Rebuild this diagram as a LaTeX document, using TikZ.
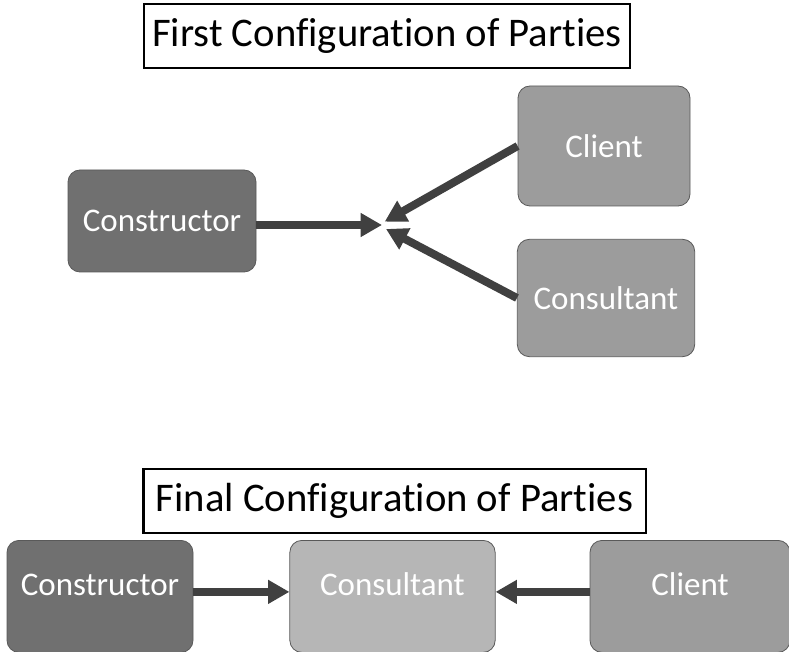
\documentclass[tikz,border=0pt]{standalone}
\usepackage{fontspec}
\setmainfont{Carlito}[Ligatures=NoCommon]
\usetikzlibrary{arrows.meta, positioning}

\definecolor{darkbox}{HTML}{707070}
\definecolor{midbox}{HTML}{9C9C9C}
\definecolor{lightbox}{HTML}{B6B6B6}
\definecolor{arrowgray}{HTML}{404040}

\tikzset{
  party/.style={draw=gray!70!black, line width=0.6pt, rounded corners=9pt, text=white,
    font=\fontsize{24.75}{28}\selectfont, inner sep=0pt},
  title/.style={draw, line width=2pt, font=\fontsize{30.5}{34}\selectfont,
    minimum height=48pt, inner sep=0pt},
  link/.style={-{Triangle[length=16pt, width=17pt]}, line width=6pt, arrowgray}
}

\begin{document}
\begin{tikzpicture}[x=0.75pt, y=-0.75pt]
  \useasboundingbox (0,0) rectangle (789,652);

  % first configuration
  \node[title, minimum width=364.5pt] (t1) at (387,36) {First Configuration of Parties};
  \node[party, fill=darkbox, minimum width=141pt, minimum height=76.5pt] (con) at (162,221) {Constructor};
  \node[party, fill=midbox, minimum width=129pt, minimum height=90pt] (cli) at (604,146) {Client};
  \node[party, fill=midbox, minimum width=133pt, minimum height=88pt] (cst) at (606,298) {Consultant};
  \coordinate (meet) at (382,225);
  \draw[link] (con.east |- meet) -- (meet);
  \draw[link] (cli.west) -- ([xshift=2pt, yshift=2.5pt]meet);
  \draw[link] (cst.west) -- ([xshift=3pt, yshift=-3pt]meet);

  % final configuration
  \node[title, minimum width=377pt] (t2) at (394.5,501) {Final Configuration of Parties};
  \node[party, fill=darkbox, anchor=north, minimum width=139.5pt, text height=41pt, text depth=43pt] (con2) at (100,540) {Constructor};
  \node[party, fill=lightbox, anchor=north, minimum width=154pt, text height=41pt, text depth=43pt] (cst2) at (392.5,540) {Consultant};
  \node[party, fill=midbox, anchor=north, minimum width=150pt, text height=41pt, text depth=43pt] (cli2) at (690,540) {Client};
  \draw[link] (con2.mid east) -- (cst2.mid west);
  \draw[link] (cli2.mid west) -- (cst2.mid east);
\end{tikzpicture}
\end{document}
